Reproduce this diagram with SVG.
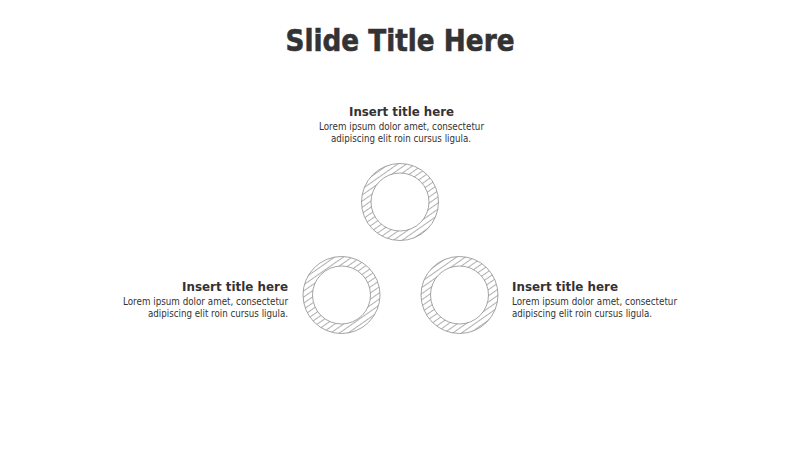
<svg xmlns="http://www.w3.org/2000/svg" width="800" height="450" viewBox="0 0 800 450">
<defs>
<pattern id="hatch" patternUnits="userSpaceOnUse" width="6" height="5" patternTransform="rotate(-35)">
<line x1="0" y1="2.5" x2="6" y2="2.5" stroke="#8e8e8e" stroke-width="0.7"/>
</pattern>
</defs>
<style>
.ttl{font-family:"DejaVu Sans","Liberation Sans",sans-serif;font-weight:bold;fill:#333333;stroke:#333333;stroke-width:0.6}
.h{font-family:"DejaVu Sans","Liberation Sans",sans-serif;font-weight:bold;font-size:13px;fill:#333333}
.b{font-family:"DejaVu Sans","Liberation Sans",sans-serif;font-size:9.6px;fill:#333333}
.ring{fill:url(#hatch);fill-rule:evenodd;stroke:#8e8e8e;stroke-width:0.8}
</style>
<rect width="800" height="450" fill="#ffffff"/>
<text class="ttl" x="400" y="51" font-size="29.5" text-anchor="middle" textLength="229" lengthAdjust="spacingAndGlyphs">Slide Title Here</text>

<g id="ring-top">
<path class="ring" d="M361.5,202a38.5,38.5 0 1,0 77,0a38.5,38.5 0 1,0 -77,0Z M371,202a29,29 0 1,0 58,0a29,29 0 1,0 -58,0Z"/>
</g>
<g id="ring-left">
<path class="ring" d="M303,295a38.5,38.5 0 1,0 77,0a38.5,38.5 0 1,0 -77,0Z M312.5,295a29,29 0 1,0 58,0a29,29 0 1,0 -58,0Z"/>
</g>
<g id="ring-right">
<path class="ring" d="M421,295a38.5,38.5 0 1,0 77,0a38.5,38.5 0 1,0 -77,0Z M430.5,295a29,29 0 1,0 58,0a29,29 0 1,0 -58,0Z"/>
</g>

<g id="text-top">
<text class="h" x="401.5" y="116" text-anchor="middle" textLength="105" lengthAdjust="spacingAndGlyphs">Insert title here</text>
<text class="b" x="401.5" y="130" text-anchor="middle" textLength="165" lengthAdjust="spacingAndGlyphs">Lorem ipsum dolor amet, consectetur</text>
<text class="b" x="401" y="142" text-anchor="middle" textLength="140" lengthAdjust="spacingAndGlyphs">adipiscing elit roin cursus ligula.</text>
</g>
<g id="text-left">
<text class="h" x="288" y="291" text-anchor="end" textLength="106" lengthAdjust="spacingAndGlyphs">Insert title here</text>
<text class="b" x="288" y="305" text-anchor="end" textLength="165" lengthAdjust="spacingAndGlyphs">Lorem ipsum dolor amet, consectetur</text>
<text class="b" x="288" y="317" text-anchor="end" textLength="140" lengthAdjust="spacingAndGlyphs">adipiscing elit roin cursus ligula.</text>
</g>
<g id="text-right">
<text class="h" x="512" y="291" textLength="106" lengthAdjust="spacingAndGlyphs">Insert title here</text>
<text class="b" x="512" y="305" textLength="165" lengthAdjust="spacingAndGlyphs">Lorem ipsum dolor amet, consectetur</text>
<text class="b" x="512" y="317" textLength="140" lengthAdjust="spacingAndGlyphs">adipiscing elit roin cursus ligula.</text>
</g>
</svg>
